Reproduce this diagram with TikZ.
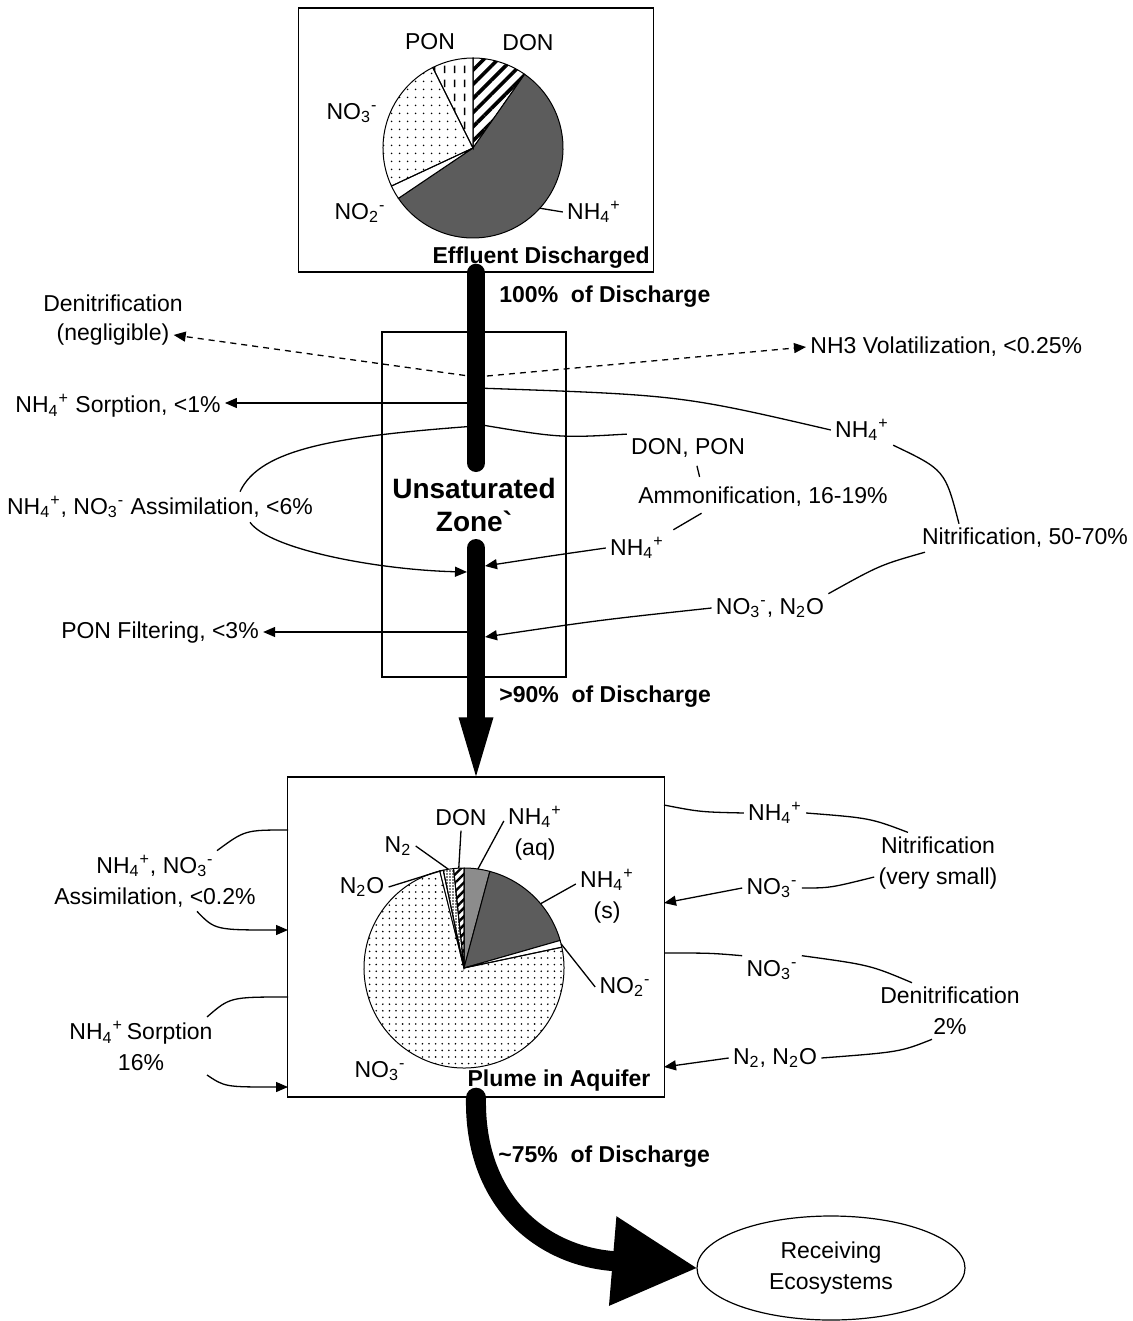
\documentclass[tikz,border=0pt]{standalone}
\usepackage{fontspec}
\setmainfont{Liberation Sans}
\usetikzlibrary{arrows.meta,positioning,shapes.geometric,patterns.meta}
\definecolor{nhdark}{HTML}{5C5C5C}
\definecolor{nhmid}{HTML}{8C8C8C}

\newcommand{\nhfour}{NH\textsubscript{4}\textsuperscript{+}}
\newcommand{\nothree}{NO\textsubscript{3}\textsuperscript{-}}
\newcommand{\notwo}{NO\textsubscript{2}\textsuperscript{-}}
\newcommand{\ntwo}{N\textsubscript{2}}
\newcommand{\ntwoo}{N\textsubscript{2}O}

\tikzdeclarepattern{
  name=vdashes,
  type=uncolored,
  bounding box={(0,0) and (5pt,7pt)},
  tile size={(5pt,7pt)},
  code={\draw[line width=0.8pt] (2.5pt,1pt) -- (2.5pt,5pt);}
}

\begin{document}
\begin{tikzpicture}[x=0.5pt, y=-0.5pt,
  txt/.style={font=\fontsize{11.5}{15.5}\selectfont, align=center, inner sep=2pt},
  boldtxt/.style={font=\fontsize{11.5}{15}\selectfont\bfseries, inner sep=2pt},
  zonebox/.style={draw, line width=0.7pt, inner sep=0pt},
  thinline/.style={line width=0.65pt},
  tiparrow/.style={line width=0.65pt, -{Triangle[length=6pt, width=5pt]}},
  dashflow/.style={line width=0.65pt, dash pattern=on 3pt off 2.5pt, -{Triangle[length=6pt, width=5pt]}},
  pipe/.style={line width=9pt, line cap=round},
  slice/.style={draw, line width=0.5pt}]

  \useasboundingbox (0,0) rectangle (1132,1321);

  % boxes
  \node[zonebox, minimum width=177.5pt, minimum height=132pt] (effbox) at (476,140) {};
  \node[zonebox, minimum width=92pt, minimum height=172.5pt,
        font=\fontsize{14}{16.5}\selectfont\bfseries, align=center] (unsat) at (474,504.5) {Unsaturated\\Zone\textasciigrave};
  \node[zonebox, minimum width=188.5pt, minimum height=160pt] (plumebox) at (476,937) {};
  \node[draw, ellipse, txt, line width=0.6pt, minimum width=134pt, minimum height=52pt] (recv) at (831,1268) {Receiving\\Ecosystems};

  % effluent pie
  \coordinate (tpc) at (473,148);
  \draw[slice, pattern={Lines[angle=45, distance=5pt, line width=1.8pt]}] (tpc) -- ++(-90:90) arc[start angle=-90, end angle=-55, radius=90] -- cycle;
  \draw[slice, fill=nhdark] (tpc) -- ++(-55:90) arc[start angle=-55, end angle=146, radius=90] -- cycle;
  \draw[slice, fill=white] (tpc) -- ++(146:90) arc[start angle=146, end angle=155, radius=90] -- cycle;
  \draw[slice, pattern={Dots[distance=4pt, radius=0.5pt]}] (tpc) -- ++(155:90) arc[start angle=155, end angle=243.4, radius=90] -- cycle;
  \draw[slice, pattern=vdashes] (tpc) -- ++(243.4:90) arc[start angle=243.4, end angle=270, radius=90] -- cycle;

  \node[txt] (ponl) at (430,42) {PON};
  \node[txt] (donl) at (528,43) {DON};
  \node[txt] (no3t) at (352,113) {\nothree};
  \node[txt] (no2t) at (360,213) {\notwo};
  \node[txt] (nh4t) at (594,212) {\nhfour};
  \draw[thinline] (nh4t.west) -- ([shift={(42:90)}]tpc);
  \node[boldtxt, anchor=south east] (effl) at (effbox.south east) {Effluent Discharged};
  \node[boldtxt, anchor=west] (pct100) at (495,297) {100\%\ \ of Discharge};

  % unsaturated zone labels
  \node[txt] (denit) at (113,303) {Denitrification};
  \node[txt, below=2pt of denit] (negl) {(negligible)};
  \node[txt, anchor=west] (nh3v) at (806,347) {NH3 Volatilization, <0.25\%};
  \node[txt] (sorp) at (118,406) {\nhfour\ Sorption, <1\%};
  \node[txt] (assim) at (160,507) {\nhfour, \nothree\ Assimilation, <6\%};
  \node[txt] (filt) at (160,633) {PON Filtering, <3\%};
  \node[txt] (donpon) at (688,448) {DON, PON};
  \node[txt] (ammon) at (763,497) {Ammonification, 16-19\%};
  \node[txt] (nh4a) at (637,548) {\nhfour};
  \node[txt] (nh4n) at (862,430) {\nhfour};
  \node[txt] (nitr) at (1025,538) {Nitrification, 50-70\%};
  \node[txt] (no3n) at (770,608) {\nothree, \ntwoo};
  \node[boldtxt, anchor=west] (pct90) at (495,697) {>90\%\ \ of Discharge};

  \coordinate (uzdash) at (476,377);
  \coordinate (uznh) at (476,388);
  \coordinate (uzsorp) at (476,403);
  \coordinate (uzdon) at (476,424);
  \coordinate (uzass) at (476,426);
  \coordinate (uzasi) at (467,572);
  \coordinate (uznha) at (485,566);
  \coordinate (uzfilt) at (476,632);
  \coordinate (uzno3) at (485,637);

  \draw[dashflow] (uzdash) -- (negl.east);
  \draw[dashflow] (uzdash) -- (nh3v.west);
  \draw[tiparrow] (uzsorp) -- (uzsorp -| sorp.east);
  \draw[thinline] (uznh) .. controls (680,395) .. (nh4n.west);
  \draw[thinline] (nh4n.south east) .. controls (945,470) .. ([xshift=-33pt]nitr.north);
  \draw[thinline] ([xshift=-50pt]nitr.south) .. controls (880,565) .. (no3n.north east);
  \draw[tiparrow] (no3n.west) .. controls (600,620) .. (uzno3);
  \draw[thinline] (uzdon) .. controls (560,438) .. (donpon.north west);
  \draw[thinline, shorten <=2pt, shorten >=3pt] ([xshift=4pt]donpon.south) -- ([xshift=-31pt]ammon.north);
  \draw[thinline, shorten <=2pt, shorten >=3pt] ([xshift=-29pt]ammon.south) -- (nh4a.north east);
  \draw[tiparrow] (nh4a.west) .. controls (550,556) .. (uznha);
  \draw[thinline] (uzass) .. controls (340,436) and (260,448) .. ([xshift=40pt]assim.north);
  \draw[tiparrow] ([xshift=45pt]assim.south) .. controls (270,550) and (380,570) .. (uzasi);
  \draw[tiparrow] (uzfilt) -- (uzfilt -| filt.east);

  % plume pie
  \coordinate (bpc) at (464,968);
  \draw[slice, fill=nhmid] (bpc) -- ++(-90:100) arc[start angle=-90, end angle=-75, radius=100] -- cycle;
  \draw[slice, fill=nhdark] (bpc) -- ++(-75:100) arc[start angle=-75, end angle=-16, radius=100] -- cycle;
  \draw[slice, fill=white] (bpc) -- ++(-16:100) arc[start angle=-16, end angle=-12, radius=100] -- cycle;
  \draw[slice, pattern={Dots[distance=3.3pt, radius=0.45pt]}] (bpc) -- ++(-12:100) arc[start angle=-12, end angle=256, radius=100] -- cycle;
  \draw[slice, fill=white] (bpc) -- ++(256:100) arc[start angle=256, end angle=258, radius=100] -- cycle;
  \draw[slice, pattern={Dots[distance=1.5pt, radius=0.4pt]}] (bpc) -- ++(258:100) arc[start angle=258, end angle=264, radius=100] -- cycle;
  \draw[slice, pattern={Lines[angle=45, distance=3pt, line width=1.2pt]}] (bpc) -- ++(264:100) arc[start angle=264, end angle=270, radius=100] -- cycle;

  \node[txt] (n2ol) at (362,887) {\ntwoo};
  \node[txt] (n2l) at (398,846) {\ntwo};
  \node[txt] (donb) at (461,818) {DON};
  \node[txt] (nh4aq) at (535,833) {\nhfour\\(aq)};
  \node[txt] (nh4s) at (607,896) {\nhfour\\(s)};
  \node[txt] (no2b) at (625,987) {\notwo};
  \node[txt] (no3b) at (380,1071) {\nothree};
  \draw[thinline] (n2ol.east) -- ([shift={(257:100)}]bpc);
  \draw[thinline] (n2l.east) -- ([shift={(261:100)}]bpc);
  \draw[thinline] (donb.south) -- ([shift={(267:100)}]bpc);
  \draw[thinline] ([yshift=6pt]nh4aq.west) -- ([shift={(-82:100)}]bpc);
  \draw[thinline] ([yshift=6pt]nh4s.west) -- ([shift={(-40:100)}]bpc);
  \draw[thinline] (no2b.west) -- ([shift={(-14:100)}]bpc);
  \node[boldtxt] (plume) at (559,1081) {Plume in Aquifer};
  \node[boldtxt, anchor=west] (pct75) at (494,1157) {\textasciitilde 75\%\ \ of Discharge};

  % plume side labels
  \node[txt] (assimb) at (155,881) {\nhfour, \nothree\\Assimilation, <0.2\%};
  \node[txt] (sorpb) at (141,1046) {\nhfour\,Sorption\\16\%};
  \node[txt] (nh4r) at (775,813) {\nhfour};
  \node[txt] (nitrb) at (938,863) {Nitrification\\(very small)};
  \node[txt] (no3r1) at (772,888) {\nothree};
  \node[txt] (no3r2) at (772,970) {\nothree};
  \node[txt] (denb) at (950,1011) {Denitrification\\2\%};
  \node[txt] (n2r) at (775,1058) {\ntwo, \ntwoo};

  \coordinate (plw1) at (288,830);
  \coordinate (plw2) at (288,930);
  \coordinate (plw3) at (288,997);
  \coordinate (plw4) at (288,1087);
  \coordinate (ple1) at (664,805);
  \coordinate (ple2) at (664,903);
  \coordinate (ple3) at (664,953);
  \coordinate (ple4) at (664,1067);

  \draw[thinline] (plw1) .. controls (245,830) .. ([xshift=31pt]assimb.north);
  \draw[tiparrow] ([xshift=21pt]assimb.south) .. controls (215,930) .. (plw2);
  \draw[thinline] (plw3) .. controls (230,997) .. ([xshift=33pt]sorpb.north);
  \draw[tiparrow] ([xshift=33pt]sorpb.south) .. controls (225,1087) .. (plw4);
  \draw[thinline] (ple1) .. controls (700,812) .. (nh4r.west);
  \draw[thinline] (nh4r.east) .. controls (870,818) .. ([xshift=-15pt]nitrb.north);
  \draw[thinline] ([yshift=-7pt]nitrb.west) .. controls (830,888) .. (no3r1.east);
  \draw[tiparrow] (no3r1.west) -- (ple2);
  \draw[thinline] (ple3) .. controls (710,953) .. (no3r2.north west);
  \draw[thinline] (no3r2.north east) .. controls (870,965) .. ([xshift=-19pt]denb.north);
  \draw[thinline] ([xshift=-9pt]denb.south) .. controls (900,1052) .. (n2r.east);
  \draw[tiparrow] (n2r.west) -- (ple4);

  % main flow
  \coordinate (p1a) at (476,463);
  \coordinate (p2a) at (476,548);
  \draw[pipe] (effbox.south) -- (p1a);
  \draw[pipe, -{Triangle[length=29.5pt, width=17.5pt, line width=0pt]}] (p2a) -- (plumebox.north);
  \draw[line width=10pt, line cap=round, -{Triangle[length=42pt, width=45pt, line width=0pt]}]
    (plumebox.south) .. controls (474,1200) and (540,1255) .. (recv.west);
\end{tikzpicture}
\end{document}
